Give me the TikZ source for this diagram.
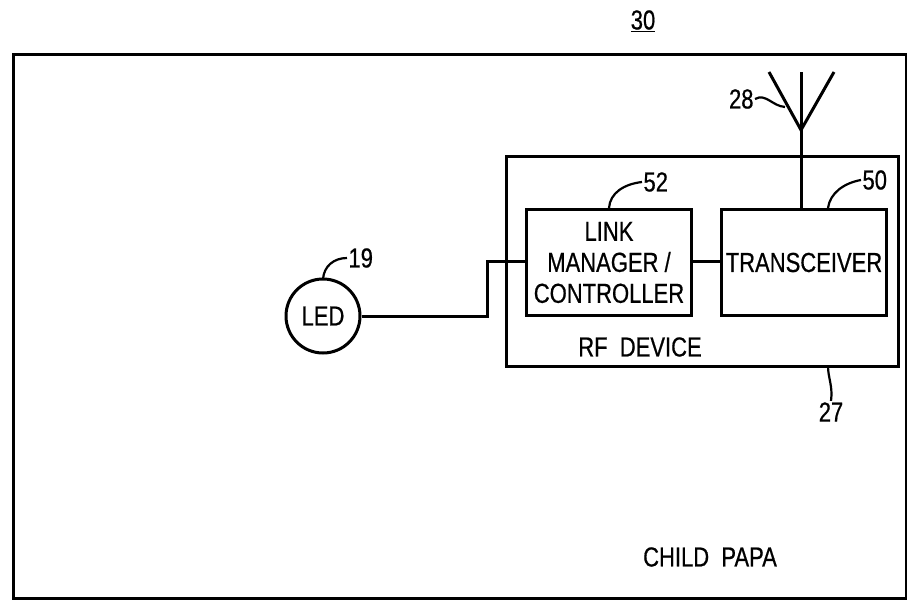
\documentclass[tikz,border=0pt]{standalone}
\usepackage{fontspec}
\setmainfont{Liberation Sans}
\newfontfamily\narrowfont[FakeStretch=0.8, FakeBold=0.6]{Liberation Sans}
\begin{document}
\begin{tikzpicture}[x=1pt,y=-1pt,
  line width=3pt,
  lbl/.style={font=\narrowfont\fontsize{27.5}{30}\selectfont, inner sep=0pt},
  num/.style={font=\narrowfont\fontsize{27.5}{30}\selectfont, inner sep=0pt},
  leader/.style={line width=2.2pt},
  box/.style={draw, line width=3pt}]
\useasboundingbox (0,0) rectangle (907,600);
% outer frame
\node[box, minimum width=893pt, minimum height=544pt, anchor=north west, inner sep=0pt] (frame) at (12,53) {};
\node[num] (n30) at (643,21) {\underline{30}};
% RF device
\node[box, minimum width=392pt, minimum height=210pt, anchor=north west, inner sep=0pt] (rf) at (505,155) {};
\node[lbl] (rftext) at (640,347) {RF\ \ DEVICE};
% link manager
\node[box, minimum width=165pt, minimum height=106pt, anchor=north west, inner sep=0pt, align=center,
  font=\narrowfont\fontsize{27.5}{31}\selectfont] (link) at (525,208) {LINK\\MANAGER /\\CONTROLLER};
% transceiver
\node[box, minimum width=165pt, minimum height=106pt, anchor=north west, inner sep=0pt,
  font=\narrowfont\fontsize{27.5}{30}\selectfont] (trx) at (720,208) {TRANSCEIVER};
% LED
\node[draw, circle, minimum size=74pt, inner sep=0pt, line width=3pt,
  font=\narrowfont\fontsize{27.5}{30}\selectfont] (led) at (323,316) {LED};
% wires
\coordinate (j1) at (487,316);
\coordinate (j2) at (487,261);
\draw (led.east) -- (j1) -- (j2) -- (link.west |- j2);
\draw (link.east |- j2) -- (trx.west |- j2);
% antenna
\coordinate (ant) at (801,130);
\coordinate (antL) at (769,72);
\coordinate (antR) at (834,72);
\coordinate (antT) at (801,72);
\draw (trx.north -| ant) -- (antT);
\draw (antL) -- (ant) -- (antR);
% labels
\node[num, anchor=east] (n28) at (755,99) {28};
\draw[leader] (n28.east) .. controls (766,93) and (772,106) .. (785,107);
\node[num, anchor=west] (n52) at (642,182) {52};
\draw[leader] (609,208) .. controls (610,193) and (624,184) .. (n52.west);
\node[num, anchor=west] (n50) at (861,180) {50};
\draw[leader] (828,208) .. controls (830,193) and (844,183) .. (n50.west);
\node[num, anchor=west] (n19) at (347,258) {19};
\draw[leader] (323,279) .. controls (324,266) and (334,258) .. (n19.west);
\node[num] (n27) at (831,412) {27};
\draw[leader] (828,366) .. controls (828,378) and (833,386) .. (n27.north);
% child papa
\node[lbl] (cp) at (710,557) {CHILD\ \ PAPA};
\end{tikzpicture}
\end{document}
